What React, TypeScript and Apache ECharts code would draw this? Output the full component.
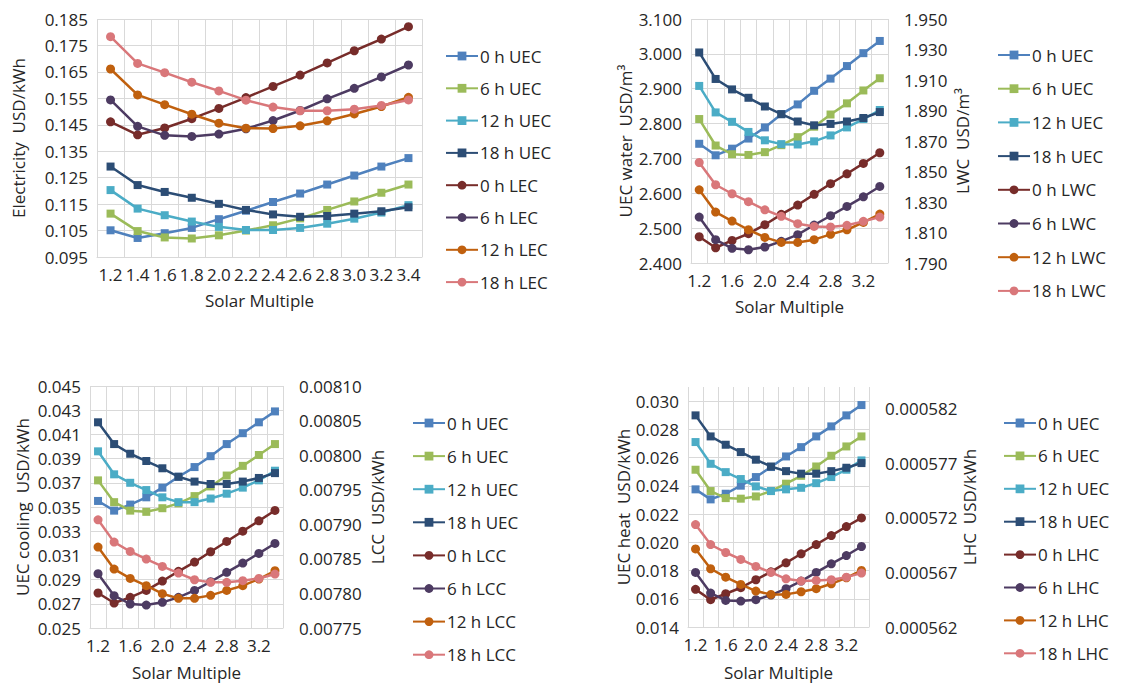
import React, { useEffect, useRef } from "react";
import * as echarts from "echarts";

// ---------- categories ----------
const solarMultiples = ["1.2", "1.4", "1.6", "1.8", "2.0", "2.2", "2.4", "2.6", "2.8", "3.0", "3.2", "3.4"];

// ---------- Panel 1: Electricity ----------
const elecNames = ["0 h UEC", "6 h UEC", "12 h UEC", "18 h UEC", "0 h LEC", "6 h LEC", "12 h LEC", "18 h LEC"];
const elecUec0 = [0.1051, 0.1022, 0.1040, 0.1060, 0.1093, 0.1125, 0.1158, 0.1190, 0.1224, 0.1258, 0.1292, 0.1324];
const elecUec6 = [0.1114, 0.1048, 0.1024, 0.1020, 0.1032, 0.1050, 0.1070, 0.1096, 0.1128, 0.1160, 0.1193, 0.1224];
const elecUec12 = [0.1203, 0.1133, 0.1108, 0.1084, 0.1064, 0.1052, 0.1052, 0.1060, 0.1076, 0.1095, 0.1118, 0.1146];
const elecUec18 = [0.1292, 0.1222, 0.1196, 0.1174, 0.1151, 0.1128, 0.1111, 0.1102, 0.1105, 0.1114, 0.1123, 0.1138];
const elecLec0 = [0.1461, 0.1412, 0.1438, 0.1473, 0.1512, 0.1553, 0.1595, 0.1638, 0.1684, 0.1730, 0.1774, 0.1821];
const elecLec6 = [0.1544, 0.1444, 0.1410, 0.1406, 0.1415, 0.1435, 0.1466, 0.1504, 0.1548, 0.1588, 0.1631, 0.1676];
const elecLec12 = [0.1661, 0.1563, 0.1526, 0.1490, 0.1456, 0.1437, 0.1436, 0.1446, 0.1465, 0.1491, 0.1519, 0.1554];
const elecLec18 = [0.1783, 0.1682, 0.1647, 0.1611, 0.1578, 0.1543, 0.1517, 0.1503, 0.1503, 0.1509, 0.1523, 0.1544];

// ---------- Panel 2: Water ----------
const waterNames = ["0 h UEC", "6 h UEC", "12 h UEC", "18 h UEC", "0 h LWC", "6 h LWC", "12 h LWC", "18 h LWC"];
const waterUec0 = [2.742, 2.709, 2.728, 2.757, 2.789, 2.827, 2.855, 2.894, 2.929, 2.965, 3.002, 3.037];
const waterUec6 = [2.813, 2.737, 2.712, 2.710, 2.718, 2.738, 2.761, 2.791, 2.826, 2.858, 2.895, 2.930];
const waterUec12 = [2.908, 2.832, 2.805, 2.776, 2.752, 2.741, 2.740, 2.749, 2.766, 2.789, 2.813, 2.839];
const waterUec18 = [3.004, 2.928, 2.898, 2.874, 2.849, 2.827, 2.806, 2.795, 2.799, 2.806, 2.816, 2.833];
const lwc0 = [1.8072, 1.8000, 1.8048, 1.8092, 1.8151, 1.8219, 1.8280, 1.8350, 1.8420, 1.8485, 1.8553, 1.8623];
const lwc6 = [1.8201, 1.8053, 1.7996, 1.7987, 1.8005, 1.8042, 1.8086, 1.8149, 1.8210, 1.8271, 1.8334, 1.8402];
const lwc12 = [1.8380, 1.8234, 1.8175, 1.8118, 1.8068, 1.8035, 1.8035, 1.8053, 1.8088, 1.8118, 1.8166, 1.8221];
const lwc18 = [1.8559, 1.8413, 1.8354, 1.8302, 1.8249, 1.8206, 1.8158, 1.8140, 1.8136, 1.8147, 1.8173, 1.8201];

// ---------- Panel 3: Cooling ----------
const coolNames = ["0 h UEC", "6 h UEC", "12 h UEC", "18 h UEC", "0 h LCC", "6 h LCC", "12 h LCC", "18 h LCC"];
const coolUec0 = [0.0355, 0.0347, 0.0352, 0.0358, 0.0366, 0.0375, 0.0383, 0.0392, 0.0402, 0.0411, 0.0420, 0.0429];
const coolUec6 = [0.0372, 0.0354, 0.0347, 0.0346, 0.0349, 0.0353, 0.0359, 0.0367, 0.0376, 0.0384, 0.0393, 0.0402];
const coolUec12 = [0.0396, 0.0377, 0.0370, 0.0364, 0.0358, 0.0354, 0.0354, 0.0357, 0.0361, 0.0366, 0.0372, 0.0380];
const coolUec18 = [0.0420, 0.0402, 0.0394, 0.0388, 0.0382, 0.0375, 0.0371, 0.0369, 0.0369, 0.0371, 0.0374, 0.0378];
const lcc0 = [0.0078006, 0.0077861, 0.0077943, 0.0078044, 0.0078179, 0.0078319, 0.0078453, 0.0078603, 0.0078752, 0.0078901, 0.0079050, 0.0079200];
const lcc6 = [0.0078285, 0.0077967, 0.0077847, 0.0077832, 0.0077871, 0.0077943, 0.0078044, 0.0078169, 0.0078305, 0.0078439, 0.0078579, 0.0078723];
const lcc12 = [0.0078670, 0.0078352, 0.0078217, 0.0078112, 0.0077996, 0.0077929, 0.0077929, 0.0077972, 0.0078044, 0.0078112, 0.0078208, 0.0078328];
const lcc18 = [0.0079065, 0.0078742, 0.0078607, 0.0078497, 0.0078391, 0.0078295, 0.0078198, 0.0078160, 0.0078160, 0.0078184, 0.0078217, 0.0078280];

// ---------- Panel 4: Heat ----------
const heatNames = ["0 h UEC", "6 h UEC", "12 h UEC", "18 h UEC", "0 h LHC", "6 h LHC", "12 h LHC", "18 h LHC"];
const heatUec0 = [0.02375, 0.02304, 0.02344, 0.02401, 0.02462, 0.02533, 0.02608, 0.02674, 0.02750, 0.02821, 0.02899, 0.02972];
const heatUec6 = [0.02514, 0.02363, 0.02313, 0.02309, 0.02325, 0.02363, 0.02415, 0.02471, 0.02537, 0.02613, 0.02679, 0.02750];
const heatUec12 = [0.02710, 0.02556, 0.02497, 0.02448, 0.02396, 0.02363, 0.02375, 0.02386, 0.02419, 0.02462, 0.02514, 0.02580];
const heatUec18 = [0.02899, 0.02750, 0.02691, 0.02639, 0.02585, 0.02537, 0.02504, 0.02486, 0.02486, 0.02504, 0.02528, 0.02561];
const lhc0 = [0.00056545, 0.00056450, 0.00056505, 0.00056560, 0.00056633, 0.00056706, 0.00056788, 0.00056871, 0.00056956, 0.00057038, 0.00057121, 0.00057200];
const lhc6 = [0.00056700, 0.00056511, 0.00056444, 0.00056438, 0.00056450, 0.00056493, 0.00056551, 0.00056621, 0.00056700, 0.00056779, 0.00056855, 0.00056938];
const lhc12 = [0.00056916, 0.00056734, 0.00056657, 0.00056590, 0.00056529, 0.00056499, 0.00056499, 0.00056523, 0.00056551, 0.00056596, 0.00056651, 0.00056718];
const lhc18 = [0.00057139, 0.00056956, 0.00056883, 0.00056819, 0.00056755, 0.00056700, 0.00056642, 0.00056621, 0.00056627, 0.00056633, 0.00056657, 0.00056694];

// ---------- styling ----------
const seriesColors = ["#4F81BD", "#9BBB59", "#4BACC6", "#2C4D75", "#772C2A", "#4D3B62", "#C0600E", "#D9777A"];
const FONT = "Open Sans";
const FS = 17;
const TEXT = "#262626";
const GRIDLINE = "#D9D9D9";

type AxisDef = { name: string; min: number; max: number; interval: number; digits: number; nameGap: number; hideMax?: boolean };
type PanelDef = {
  names: string[];
  data: number[][];
  grid: { left: number; top: number; width: number; height: number };
  xNameGap: number;
  labelInterval: number;
  left: AxisDef;
  right?: AxisDef;
  legend: { left: number; top: number; itemGap: number };
};

const panels: PanelDef[] = [
  {
    names: elecNames,
    data: [elecUec0, elecUec6, elecUec12, elecUec18, elecLec0, elecLec6, elecLec12, elecLec18],
    grid: { left: 97, top: 19, width: 325, height: 238 },
    xNameGap: 35,
    labelInterval: 0,
    left: { name: "Electricity  USD/kWh", min: 0.095, max: 0.185, interval: 0.01, digits: 3, nameGap: 70 },
    legend: { left: 445, top: 46, itemGap: 12.3 },
  },
  {
    names: waterNames,
    data: [waterUec0, waterUec6, waterUec12, waterUec18, lwc0, lwc6, lwc12, lwc18],
    grid: { left: 691, top: 19, width: 197, height: 244 },
    xNameGap: 35,
    labelInterval: 1,
    left: { name: "UEC water  USD/m³", min: 2.4, max: 3.1, interval: 0.1, digits: 3, nameGap: 57 },
    right: { name: "LWC  USD/m³", min: 1.79, max: 1.95, interval: 0.02, digits: 3, nameGap: 66 },
    legend: { left: 997, top: 45, itemGap: 13.7 },
  },
  {
    names: coolNames,
    data: [coolUec0, coolUec6, coolUec12, coolUec18, lcc0, lcc6, lcc12, lcc18],
    grid: { left: 90, top: 386, width: 193, height: 242 },
    xNameGap: 36,
    labelInterval: 1,
    left: { name: "UEC cooling  USD/kWh", min: 0.025, max: 0.045, interval: 0.002, digits: 3, nameGap: 59 },
    right: { name: "LCC  USD/kWh", min: 0.00775, max: 0.0081, interval: 0.00005, digits: 5, nameGap: 86 },
    legend: { left: 412, top: 413, itemGap: 13.1 },
  },
  {
    names: heatNames,
    data: [heatUec0, heatUec6, heatUec12, heatUec18, lhc0, lhc6, lhc12, lhc18],
    grid: { left: 688, top: 387, width: 181, height: 240 },
    xNameGap: 37,
    labelInterval: 1,
    left: { name: "UEC heat  USD/kWh", min: 0.014, max: 0.031, interval: 0.002, digits: 3, nameGap: 56, hideMax: true },
    right: { name: "LHC  USD/kWh", min: 0.000562, max: 0.000584, interval: 0.000005, digits: 6, nameGap: 90, hideMax: true },
    legend: { left: 1003, top: 413, itemGap: 12.9 },
  },
];

function buildOption() {
  const grid: any[] = [];
  const xAxis: any[] = [];
  const yAxis: any[] = [];
  const legend: any[] = [];
  const series: any[] = [];
  const txt = { fontSize: FS, fontFamily: FONT, color: TEXT };

  panels.forEach((p, i) => {
    grid.push({ ...p.grid, containLabel: false });
    xAxis.push({
      type: "category",
      gridIndex: i,
      data: solarMultiples,
      boundaryGap: true,
      axisLine: { show: true, lineStyle: { color: GRIDLINE, width: 1 } },
      axisTick: { show: false },
      axisLabel: { interval: p.labelInterval, margin: 9, ...txt },
      splitLine: { show: true, interval: 0, lineStyle: { color: GRIDLINE, width: 1 } },
      name: "Solar Multiple",
      nameLocation: "middle",
      nameGap: p.xNameGap,
      nameTextStyle: txt,
    });
    const leftIdx = yAxis.length;
    const l = p.left;
    yAxis.push({
      type: "value",
      gridIndex: i,
      position: "left",
      min: l.min,
      max: l.max,
      interval: l.interval,
      axisLine: { show: false },
      axisTick: { show: false },
      axisLabel: {
        margin: 9,
        ...txt,
        showMaxLabel: !l.hideMax,
        formatter: (v: number) => v.toFixed(l.digits),
      },
      splitLine: { show: true, showMaxLine: !l.hideMax, lineStyle: { color: GRIDLINE, width: 1 } },
      name: l.name,
      nameLocation: "middle",
      nameRotate: 90,
      nameGap: l.nameGap,
      nameTextStyle: txt,
    });
    let rightIdx = leftIdx;
    if (p.right) {
      const r = p.right;
      rightIdx = yAxis.length;
      yAxis.push({
        type: "value",
        gridIndex: i,
        position: "right",
        min: r.min,
        max: r.max,
        interval: r.interval,
        axisLine: { show: false },
        axisTick: { show: false },
        axisLabel: {
          margin: 16,
          ...txt,
          showMaxLabel: !r.hideMax,
          formatter: (v: number) => v.toFixed(r.digits),
        },
        splitLine: { show: false },
        name: r.name,
        nameLocation: "middle",
        nameRotate: 90,
        nameGap: r.nameGap,
        nameTextStyle: txt,
      });
    }
    legend.push({
      orient: "vertical",
      left: p.legend.left,
      top: p.legend.top,
      padding: 0,
      itemGap: p.legend.itemGap,
      itemWidth: 32,
      itemHeight: 11,
      selectedMode: false,
      data: p.names,
      textStyle: { ...txt, lineHeight: 20, padding: [0, 0, 0, -3] },
    });
    p.data.forEach((vals, k) => {
      const isUec = k < 4;
      series.push({
        type: "line",
        name: p.names[k],
        xAxisIndex: i,
        yAxisIndex: isUec ? leftIdx : rightIdx,
        data: vals,
        symbol: isUec ? "rect" : "circle",
        symbolSize: isUec ? 8 : 9,
        showAllSymbol: true,
        lineStyle: { width: 2.5, color: seriesColors[k] },
        itemStyle: { color: seriesColors[k] },
        z: 2 + k,
      });
    });
  });

  return {
    animation: false,
    backgroundColor: "#ffffff",
    textStyle: { fontFamily: FONT },
    grid,
    xAxis,
    yAxis,
    legend,
    series,
  };
}

export default function App() {
  const ref = useRef<HTMLDivElement>(null);
  useEffect(() => {
    if (!ref.current) return;
    const chart = echarts.init(ref.current, undefined, { renderer: "svg" });
    chart.setOption(buildOption() as any);
    return () => chart.dispose();
  }, []);
  return (
    <div
      ref={ref}
      style={{ position: "absolute", left: 0, top: 0, width: 1148, height: 683, background: "#fff" }}
    />
  );
}
